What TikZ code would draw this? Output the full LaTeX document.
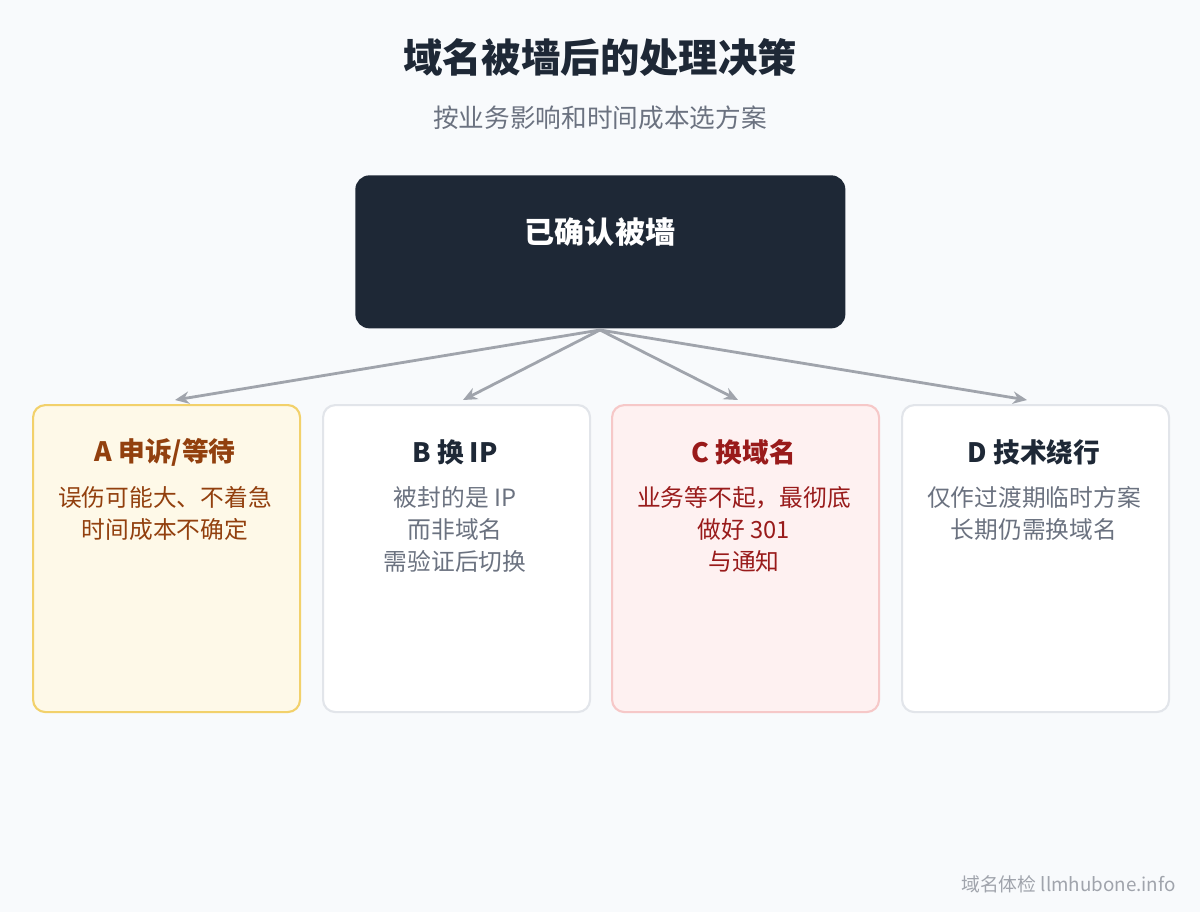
\documentclass[tikz,border=0pt]{standalone}
\usepackage{fontspec}
\setmainfont{Noto Sans CJK SC}
\definecolor{PageBg}{HTML}{F8FAFC}
\definecolor{DarkBox}{HTML}{1E2836}
\definecolor{ArrowGray}{HTML}{A0A4AC}
\definecolor{TextGray}{HTML}{6B7280}
\definecolor{EdgeGray}{HTML}{E2E5EA}
\definecolor{AmberFill}{HTML}{FEF9E8}
\definecolor{AmberEdge}{HTML}{F2D16B}
\definecolor{AmberText}{HTML}{92400E}
\definecolor{RoseFill}{HTML}{FEF1F1}
\definecolor{RoseEdge}{HTML}{F6C8C8}
\definecolor{RoseText}{HTML}{991B1B}
\usetikzlibrary{arrows.meta, positioning}

\begin{document}
\begin{tikzpicture}[x=0.02cm, y=-0.02cm,
    card/.style={draw, line width=1.2pt, rounded corners=7pt, minimum width=267*0.02cm, minimum height=307*0.02cm, anchor=north west},
    cardtitle/.style={font=\bfseries\fontsize{15.2}{18}\selectfont},
    cardtext/.style={font=\fontsize{13.5}{18.4}\selectfont, align=center, anchor=north},
    branch/.style={draw=ArrowGray, line width=1.6pt, -{Stealth[length=8pt, width=7pt]}}]
    \fill[PageBg] (0,0) rectangle (1200,912);
    \useasboundingbox (0,0) rectangle (1200,912);

    % heading
    \node[font=\bfseries\fontsize{22.4}{26}\selectfont, text=DarkBox] (title) at (600,58) {域名被墙后的处理决策};
    \node[font=\fontsize{14.6}{17}\selectfont, text=TextGray] (subtitle) at (600,118) {按业务影响和时间成本选方案};

    % root
    \node[fill=DarkBox, rounded corners=8pt, minimum width=490*0.02cm, minimum height=153*0.02cm, anchor=north west] (root) at (355,175) {};
    \node[font=\bfseries\fontsize{17.1}{20}\selectfont, text=white] (rootlabel) at (600,232) {已确认被墙};
    \coordinate (fork) at (600,330);

    % options
    \node[card, fill=AmberFill, draw=AmberEdge] (optA) at (32,404) {};
    \node[card, fill=white, draw=EdgeGray] (optB) at (322,404) {};
    \node[card, fill=RoseFill, draw=RoseEdge] (optC) at (611,404) {};
    \node[card, fill=white, draw=EdgeGray] (optD) at (901,404) {};

    \node[cardtitle, text=AmberText] (titleA) at (165,452) {A 申诉/等待};
    \node[cardtitle, text=DarkBox] (titleB) at (455,452) {B 换 IP};
    \node[cardtitle, text=RoseText] (titleC) at (744,452) {C 换域名};
    \node[cardtitle, text=DarkBox] (titleD) at (1034,452) {D 技术绕行};

    \node[cardtext, text=AmberText] (textA) at (165,480) {误伤可能大、不着急\\时间成本不确定};
    \node[cardtext, text=TextGray] (textB) at (455,480) {被封的是 IP\\而非域名\\需验证后切换};
    \node[cardtext, text=RoseText] (textC) at (744,480) {业务等不起，最彻底\\做好 301\\与通知};
    \node[cardtext, text=TextGray] (textD) at (1034,480) {仅作过渡期临时方案\\长期仍需换域名};

    % connectors
    \coordinate (inA) at (175,400);
    \coordinate (inB) at (463,400);
    \coordinate (inC) at (738,400);
    \coordinate (inD) at (1027,400);
    \foreach \t in {inA, inB, inC, inD}
        \draw[branch] (fork) -- (\t);

    \node[font=\fontsize{10.7}{13}\selectfont, text=ArrowGray, anchor=east, inner sep=0pt] (footer) at (1176,884) {域名体检 llmhubone.info};
\end{tikzpicture}
\end{document}
